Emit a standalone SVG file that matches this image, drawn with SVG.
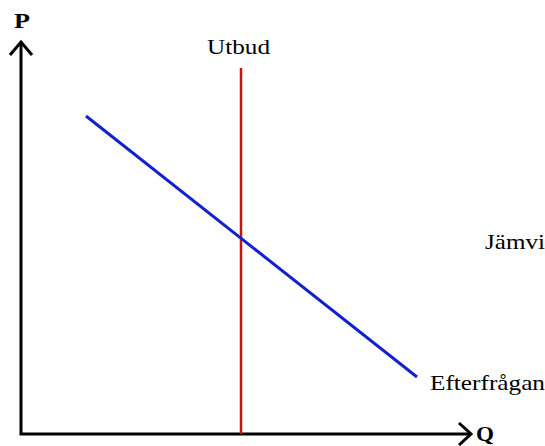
<svg xmlns="http://www.w3.org/2000/svg" width="545" height="446" viewBox="0 0 545 446">
<style>
text{font-family:"Liberation Serif","Times New Roman",serif;fill:#000}
.lbl{font-size:22px}
.ax{font-size:22px;font-weight:bold}
.axis{stroke:#000;stroke-width:3;fill:none}
</style>
<rect width="545" height="446" fill="#fff"/>
<g id="connectors">
<path class="axis" d="M21,43 V434 H471"/>
<path class="axis" d="M10,55 L21,42 L32,55"/>
<path class="axis" d="M459,423 L471,434 L459,445"/>
<line x1="241" y1="68" x2="241" y2="434" stroke="#cc1111" stroke-width="2.5"/>
<line x1="86" y1="116" x2="417" y2="377" stroke="#1122cc" stroke-width="3"/>
</g>
<g id="P"><text class="ax" x="14" y="28" textLength="16" lengthAdjust="spacingAndGlyphs">P</text></g>
<g id="Q"><text class="ax" x="476" y="441" textLength="18" lengthAdjust="spacingAndGlyphs">Q</text></g>
<g id="Utbud"><text class="lbl" x="207" y="54" textLength="63" lengthAdjust="spacingAndGlyphs">Utbud</text></g>
<g id="Efterfragan"><text class="lbl" x="430" y="390" textLength="115" lengthAdjust="spacingAndGlyphs">Efterfrågan</text></g>
<g id="Jamvi"><text class="lbl" x="485" y="249" textLength="60" lengthAdjust="spacingAndGlyphs">Jämvi</text></g>
</svg>
